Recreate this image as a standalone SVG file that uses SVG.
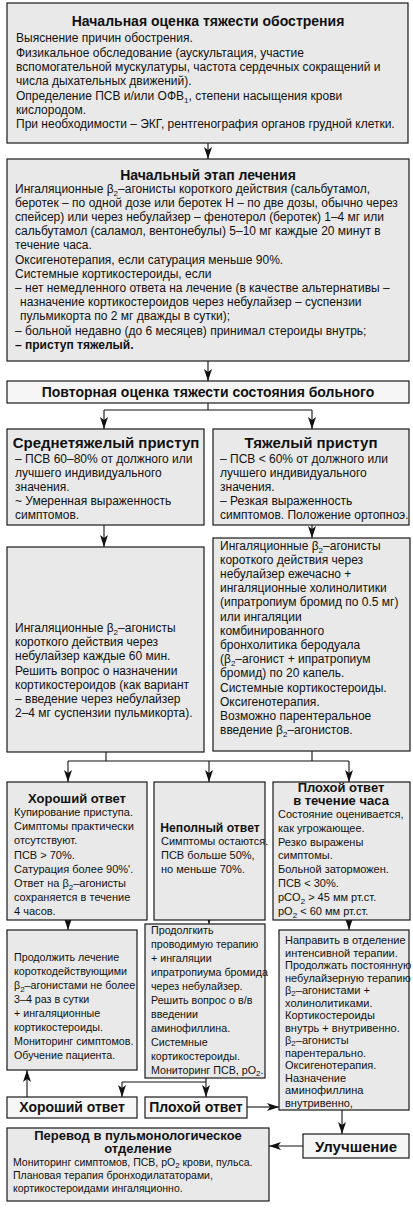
<svg xmlns="http://www.w3.org/2000/svg" width="413" height="1208" viewBox="0 0 413 1208">
<style>
.bx{fill:#e9e9e9;stroke:#1a1a1a;stroke-width:1.2}
.lt{fill:#f6f6f6;stroke:#1a1a1a;stroke-width:1.2}
text{font-family:"Liberation Sans",Arial,sans-serif;fill:#111}
.t{font-size:14px;font-weight:bold;text-anchor:middle}
.t15{font-size:15px;font-weight:bold;text-anchor:middle}
.t13{font-size:13px;font-weight:bold;text-anchor:middle}
.t12{font-size:12.2px;font-weight:bold;text-anchor:middle}
.b{font-size:12px}
.s{font-size:11px}
.sm{font-size:10.7px}
.xs{font-size:10.5px}
.bd{font-weight:bold}
.sub{font-size:8px}
.cn{fill:none;stroke:#111;stroke-width:1.1}
</style>
<defs>
<marker id="ah" viewBox="0 0 12 8" markerWidth="12" markerHeight="8" refX="12" refY="4" orient="auto" markerUnits="userSpaceOnUse"><path d="M0,0 L12,4 L0,8 L3,4 z" fill="#111"/></marker>
</defs>
<rect width="413" height="1208" fill="#fff"/>

<g id="connectors">
<path class="cn" d="M208,143 V159" marker-end="url(#ah)"/>
<path class="cn" d="M208,361 V381" marker-end="url(#ah)"/>
<path class="cn" d="M208,403 V410 M104,410 H312"/>
<path class="cn" d="M104,410 V429" marker-end="url(#ah)"/>
<path class="cn" d="M312,410 V429" marker-end="url(#ah)"/>
<path class="cn" d="M104,525 V547" marker-end="url(#ah)"/>
<path class="cn" d="M312,525 V538" marker-end="url(#ah)"/>
<path class="cn" d="M106,752 V761 M312,751 V761 M68,761 H349"/>
<path class="cn" d="M68,761 V782" marker-end="url(#ah)"/>
<path class="cn" d="M209,761 V782" marker-end="url(#ah)"/>
<path class="cn" d="M349,761 V782" marker-end="url(#ah)"/>
<path class="cn" d="M68,920 V930" marker-end="url(#ah)"/>
<path class="cn" d="M209,920 V924" marker-end="url(#ah)"/>
<path class="cn" d="M349,920 V930" marker-end="url(#ah)"/>
<path class="cn" d="M206,1078 V1082 M122,1082 H206"/>
<path class="cn" d="M122,1082 V1097" marker-end="url(#ah)"/>
<path class="cn" d="M206,1082 V1097" marker-end="url(#ah)"/>
<path class="cn" d="M27,1097 V1070" marker-end="url(#ah)"/>
<path class="cn" d="M247,1107 H279" marker-end="url(#ah)"/>
<path class="cn" d="M342,1110 V1134" marker-end="url(#ah)"/>
<path class="cn" d="M303,1146 H269" marker-end="url(#ah)"/>
</g>

<g id="n1">
<rect class="bx" x="7" y="3" width="401" height="140"/>
<text class="t" x="208" y="26">Начальная оценка тяжести обострения</text>
<text class="b" x="16" y="42.3">Выяснение причин обострения.</text>
<text class="b" x="16" y="56.6">Физикальное обследование (аускультация, участие</text>
<text class="b" x="16" y="70.9">вспомогательной мускулатуры, частота сердечных сокращений и</text>
<text class="b" x="16" y="85.2">числа дыхательных движений).</text>
<text class="b" x="16" y="99.5">Определение ПСВ и/или ОФВ<tspan class="sub" dy="3">1</tspan><tspan dy="-3">, степени насыщения крови</tspan></text>
<text class="b" x="16" y="113.8">кислородом.</text>
<text class="b" x="16" y="128.1">При необходимости – ЭКГ, рентгенография органов грудной клетки.</text>
</g>

<g id="n2">
<rect class="bx" x="7" y="159" width="402" height="202"/>
<text class="t" x="208" y="180">Начальный этап лечения</text>
<text class="b" x="15" y="192.5">Ингаляционные β<tspan class="sub" dy="3">2</tspan><tspan dy="-3">–агонисты короткого действия (сальбутамол,</tspan></text>
<text class="b" x="15" y="206.7">беротек – по одной дозе или беротек Н – по две дозы, обычно через</text>
<text class="b" x="15" y="220.9">спейсер) или через небулайзер – фенотерол (беротек) 1–4 мг или</text>
<text class="b" x="15" y="235.1">сальбутамол (саламол, вентонебулы) 5–10 мг каждые 20 минут в</text>
<text class="b" x="15" y="249.3">течение часа.</text>
<text class="b" x="15" y="263.5">Оксигенотерапия, если сатурация меньше 90%.</text>
<text class="b" x="15" y="277.7">Системные кортикостероиды, если</text>
<text class="b" x="15" y="291.9">– нет немедленного ответа на лечение (в качестве альтернативы –</text>
<text class="b" x="20" y="306.1">назначение кортикостероидов через небулайзер – суспензии</text>
<text class="b" x="20" y="320.3">пульмикорта по 2 мг дважды в сутки);</text>
<text class="b" x="15" y="334.5">– больной недавно (до 6 месяцев) принимал стероиды внутрь;</text>
<text class="b bd" x="15" y="348.7">– приступ тяжелый.</text>
</g>

<g id="n3">
<rect class="lt" x="7" y="381" width="402" height="22"/>
<text class="t" x="208" y="397">Повторная оценка тяжести состояния больного</text>
</g>

<g id="n4">
<rect class="bx" x="7" y="429" width="197" height="96"/>
<text class="t15" x="106" y="448">Среднетяжелый приступ</text>
<text class="b" x="15" y="462.5">– ПСВ 60–80% от должного или</text>
<text class="b" x="15" y="476.7">лучшего индивидуального</text>
<text class="b" x="15" y="490.9">значения.</text>
<text class="b" x="15" y="505.1">~ Умеренная выраженность</text>
<text class="b" x="15" y="519.3">симптомов.</text>
</g>

<g id="n5">
<rect class="bx" x="213" y="429" width="196" height="96"/>
<text class="t15" x="311" y="448">Тяжелый приступ</text>
<text class="b" x="220" y="462.5">– ПСВ &lt; 60% от должного или</text>
<text class="b" x="220" y="476.7">лучшего индивидуального</text>
<text class="b" x="220" y="490.9">значения.</text>
<text class="b" x="220" y="505.1">– Резкая выраженность</text>
<text class="b" x="220" y="519.3">симптомов. Положение ортопноэ.</text>
</g>

<g id="n6">
<rect class="bx" x="7" y="547" width="197" height="205"/>
<text class="b" x="15" y="632">Ингаляционные β<tspan class="sub" dy="3">2</tspan><tspan dy="-3">–агонисты</tspan></text>
<text class="b" x="15" y="646.2">короткого действия через</text>
<text class="b" x="15" y="660.4">небулайзер каждые 60 мин.</text>
<text class="b" x="15" y="674.6">Решить вопрос о назначении</text>
<text class="b" x="15" y="688.8">кортикостероидов (как вариант</text>
<text class="b" x="15" y="703">– введение через небулайзер</text>
<text class="b" x="15" y="717.2">2–4 мг суспензии пульмикорта).</text>
</g>

<g id="n7">
<rect class="bx" x="213" y="538" width="197" height="213"/>
<text class="b" x="220" y="549.5">Ингаляционные β<tspan class="sub" dy="3">2</tspan><tspan dy="-3">–агонисты</tspan></text>
<text class="b" x="220" y="563.7">короткого действия через</text>
<text class="b" x="220" y="577.9">небулайзер ежечасно +</text>
<text class="b" x="220" y="592.1">ингаляционные холинолитики</text>
<text class="b" x="220" y="606.3">(ипратропиум бромид по 0.5 мг)</text>
<text class="b" x="220" y="620.5">или ингаляции</text>
<text class="b" x="220" y="634.7">комбинированного</text>
<text class="b" x="220" y="648.9">бронхолитика беродуала</text>
<text class="b" x="220" y="663.1">(β<tspan class="sub" dy="3">2</tspan><tspan dy="-3">–агонист + ипратропиум</tspan></text>
<text class="b" x="220" y="677.3">бромид) по 20 капель.</text>
<text class="b" x="220" y="691.5">Системные кортикостероиды.</text>
<text class="b" x="220" y="705.7">Оксигенотерапия.</text>
<text class="b" x="220" y="719.9">Возможно парентеральное</text>
<text class="b" x="220" y="734.1">введение β<tspan class="sub" dy="3">2</tspan><tspan dy="-3">–агонистов.</tspan></text>
</g>

<g id="n8">
<rect class="bx" x="7" y="782" width="140" height="138"/>
<text class="t13" x="77" y="803">Хороший ответ</text>
<text class="s" x="14" y="816">Купирование приступа.</text>
<text class="s" x="14" y="830.2">Симптомы практически</text>
<text class="s" x="14" y="844.4">отсутствуют.</text>
<text class="s" x="14" y="858.6">ПСВ &gt; 70%.</text>
<text class="s" x="14" y="872.8">Сатурация более 90%'.</text>
<text class="s" x="14" y="887">Ответ на β<tspan class="sub" dy="3">2</tspan><tspan dy="-3">–агонисты</tspan></text>
<text class="s" x="14" y="901.2">сохраняется в течение</text>
<text class="s" x="14" y="915.4">4 часов.</text>
</g>

<g id="n9">
<rect class="bx" x="154" y="782" width="111" height="138"/>
<text class="t12" x="210" y="832">Неполный ответ</text>
<text class="s" x="161" y="845">Симптомы остаются.</text>
<text class="s" x="161" y="859">ПСВ больше 50%,</text>
<text class="s" x="161" y="873">но меньше 70%.</text>
</g>

<g id="n10">
<rect class="bx" x="273" y="782" width="137" height="138"/>
<text class="t13" x="341" y="792">Плохой ответ</text>
<text class="t13" x="341" y="805">в течение часа</text>
<text class="s" x="278" y="818">Состояние оценивается,</text>
<text class="s" x="278" y="831.8">как угрожающее.</text>
<text class="s" x="278" y="845.6">Резко выражены</text>
<text class="s" x="278" y="859.4">симптомы.</text>
<text class="s" x="278" y="873.2">Больной заторможен.</text>
<text class="s" x="278" y="887">ПСВ &lt; 30%.</text>
<text class="s" x="278" y="901">pCO<tspan class="sub" dy="3">2</tspan><tspan dy="-3"> &gt; 45 мм рт.ст.</tspan></text>
<text class="s" x="278" y="915">pO<tspan class="sub" dy="3">2</tspan><tspan dy="-3"> &lt; 60 мм рт.ст.</tspan></text>
</g>

<g id="n11">
<rect class="bx" x="7" y="930" width="130" height="140"/>
<text class="sm" x="14" y="961">Продолжить лечение</text>
<text class="sm" x="14" y="975">короткодействующими</text>
<text class="sm" x="14" y="989">β<tspan class="sub" dy="3">2</tspan><tspan dy="-3">–агонистами не более</tspan></text>
<text class="sm" x="14" y="1003">3–4 раз в сутки</text>
<text class="sm" x="14" y="1017">+ ингаляционные</text>
<text class="sm" x="14" y="1031">кортикостероиды.</text>
<text class="sm" x="14" y="1045">Мониторинг симптомов.</text>
<text class="sm" x="14" y="1059">Обучение пациента.</text>
</g>

<g id="n12">
<rect class="bx" x="145" y="924" width="120" height="154"/>
<text class="sm" x="151" y="934">Продолгкить</text>
<text class="sm" x="151" y="948">проводимую терапию</text>
<text class="sm" x="151" y="962">+ ингаляции</text>
<text class="sm" x="151" y="976">ипратропиума бромида</text>
<text class="sm" x="151" y="990">через небулайзер.</text>
<text class="sm" x="151" y="1004">Решить вопрос о в/в</text>
<text class="sm" x="151" y="1018">введении</text>
<text class="sm" x="151" y="1032">аминофиллина.</text>
<text class="sm" x="151" y="1046">Системные</text>
<text class="sm" x="151" y="1060">кортикостероиды.</text>
<text class="sm" x="151" y="1074">Мониторинг ПСВ, pO<tspan class="sub" dy="2">2</tspan><tspan dy="-2">.</tspan></text>
</g>

<g id="n13">
<rect class="bx" x="279" y="930" width="130" height="180"/>
<text class="s" x="285" y="944">Направить в отделение</text>
<text class="s" x="285" y="956.5">интенсивной терапии.</text>
<text class="s" x="285" y="969">Продолжать постоянную</text>
<text class="s" x="285" y="981.5">небулайзерную терапию</text>
<text class="s" x="285" y="994">β<tspan class="sub" dy="2">2</tspan><tspan dy="-2">–агонистами +</tspan></text>
<text class="s" x="285" y="1006.5">холинолитиками.</text>
<text class="s" x="285" y="1019">Кортикостероиды</text>
<text class="s" x="285" y="1031.5">внутрь + внутривенно.</text>
<text class="s" x="285" y="1044">β<tspan class="sub" dy="2">2</tspan><tspan dy="-2">–агонисты</tspan></text>
<text class="s" x="285" y="1056.5">парентерально.</text>
<text class="s" x="285" y="1069">Оксигенотерапия.</text>
<text class="s" x="285" y="1081.5">Назначение</text>
<text class="s" x="285" y="1094">аминофиллина</text>
<text class="s" x="285" y="1106.5">внутривенно,</text>
</g>

<g id="n14">
<rect class="lt" x="7" y="1097" width="130" height="21"/>
<text class="t" x="72" y="1112">Хороший ответ</text>
</g>

<g id="n15">
<rect class="lt" x="145" y="1097" width="102" height="21"/>
<text class="t" x="196" y="1112">Плохой ответ</text>
</g>

<g id="n16">
<rect class="lt" x="303" y="1134" width="106" height="24"/>
<text class="t15" x="356" y="1152">Улучшение</text>
</g>

<g id="n17">
<rect class="bx" x="7" y="1128" width="262" height="73"/>
<text class="t13" x="138" y="1140">Перевод в пульмонологическое</text>
<text class="t13" x="138" y="1153">отделение</text>
<text class="xs" x="13" y="1166">Мониторинг симптомов, ПСВ, pO<tspan class="sub" dy="2">2</tspan><tspan dy="-2"> крови, пульса.</tspan></text>
<text class="xs" x="13" y="1179">Плановая терапия бронходилататорами,</text>
<text class="xs" x="13" y="1192">кортикостероидами ингаляционно.</text>
</g>
</svg>
